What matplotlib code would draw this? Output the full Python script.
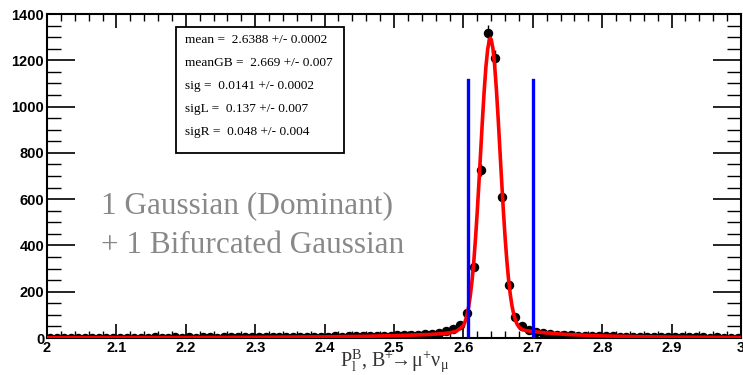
import numpy as np
import matplotlib
matplotlib.use("Agg")
import matplotlib.pyplot as plt
from matplotlib.ticker import MultipleLocator

# ---- data ----
bin_centers = np.round(np.arange(2.005, 3.0, 0.01), 3)
counts = [
    2, 1, 2, 1, 2, 2, 1, 2, 2, 1,      # 2.00-2.10
    2, 2, 1, 2, 2, 3, 2, 2, 3, 2,      # 2.10-2.20
    3, 2, 3, 3, 2, 3, 3, 4, 3, 3,      # 2.20-2.30
    4, 3, 4, 4, 5, 4, 5, 5, 6, 5,      # 2.30-2.40
    6, 7, 6, 7, 9, 8, 8, 9, 10, 9,     # 2.40-2.50
    11, 12, 13, 14, 16, 18, 23, 30, 40, 58,   # 2.50-2.60
    107, 305, 725, 1317, 1209, 611, 229, 92, 52, 35,  # 2.60-2.70
    25, 20, 16, 14, 12, 11, 10, 9, 9, 8,   # 2.70-2.80
    7, 7, 6, 6, 5, 5, 5, 4, 4, 4,      # 2.80-2.90
    4, 3, 3, 3, 3, 2, 3, 2, 2, 2,      # 2.90-3.00
]
fit_x = [2.00, 2.10, 2.20, 2.30, 2.40, 2.45, 2.50, 2.55, 2.57, 2.58, 2.59,
         2.595, 2.600, 2.6025, 2.605, 2.6075, 2.610, 2.6125, 2.615, 2.6175,
         2.620, 2.6225, 2.625, 2.6275, 2.630, 2.6325, 2.635, 2.6375, 2.6388,
         2.640, 2.6425, 2.645, 2.6475, 2.650, 2.6525, 2.655, 2.6575, 2.660,
         2.6625, 2.665, 2.6675, 2.670, 2.6725, 2.675, 2.6775, 2.680, 2.685,
         2.690, 2.700, 2.720, 2.750, 2.800, 2.850, 2.900, 2.950, 3.000]
fit_y = [1, 2, 2, 3, 5, 7, 10, 15, 19, 22, 30,
         40, 54, 71, 97, 134, 184, 249, 331, 432,
         548, 677, 811, 947, 1070, 1174, 1248, 1290, 1295,
         1290, 1252, 1179, 1076, 953, 819, 684, 555, 438,
         338, 255, 189, 139, 103, 77, 59, 48, 36,
         32, 28, 22, 15, 9, 6, 4, 3, 2]
cut_lines = [2.607, 2.700]
cut_height = 1115
fit_labels = ["mean =  2.6388 +/- 0.0002",
              "meanGB =  2.669 +/- 0.007",
              "sig =  0.0141 +/- 0.0002",
              "sigL =  0.137 +/- 0.007",
              "sigR =  0.048 +/- 0.004"]
model_lines = ["1 Gaussian (Dominant)", "+ 1 Bifurcated Gaussian"]

# ---- figure ----
W, H = 743, 375
fig = plt.figure(figsize=(W / 100, H / 100), dpi=100)
ax = fig.add_axes([47 / W, 1 - 338 / H, (741 - 47) / W, (338 - 14) / H])

counts_arr = np.array(counts, dtype=float)
ax.errorbar(bin_centers, counts_arr, yerr=np.sqrt(counts_arr), xerr=0.005,
            fmt='o', color='black', ms=5.8, elinewidth=1.0, capsize=0, zorder=3)
ax.plot(fit_x, fit_y, color='#ff0000', lw=2.6, zorder=4, solid_joinstyle='round')
for cx in cut_lines:
    ax.plot([cx, cx], [0, cut_height], color='#0000ff', lw=2.4, zorder=5)

ax.set_xlim(2.0, 3.0)
ax.set_ylim(0, 1400)
ax.xaxis.set_major_locator(MultipleLocator(0.1))
ax.xaxis.set_minor_locator(MultipleLocator(0.02))
ax.yaxis.set_major_locator(MultipleLocator(200))
ax.yaxis.set_minor_locator(MultipleLocator(50))
ax.tick_params(axis='x', which='major', direction='in', length=10, width=1.2,
               top=True, pad=2)
ax.tick_params(axis='x', which='minor', direction='in', length=5, width=1.0, top=True)
ax.tick_params(axis='y', which='major', direction='in', length=20, width=1.2,
               right=True, pad=2)
ax.tick_params(axis='y', which='minor', direction='in', length=10, width=1.0, right=True)
for sp in ax.spines.values():
    sp.set_linewidth(1.5)

def fmt_x(v):
    s = f"{v:.1f}"
    return s[:-2] if s.endswith(".0") else s

xt = np.round(np.arange(2.0, 3.01, 0.1), 1)
ax.set_xticks(xt)
ax.set_xticklabels([fmt_x(v) for v in xt], fontfamily='Liberation Sans',
                   fontweight='bold', fontsize=10.5)
yt = np.arange(0, 1401, 200)
ax.set_yticks(yt)
ax.set_yticklabels([str(v) for v in yt], fontfamily='Liberation Sans',
                   fontweight='bold', fontsize=10.5)

# stats box
box_x0, box_y0, box_x1, box_y1 = 176, 27, 344, 153
fig.patches.append(plt.Rectangle((box_x0 / W, 1 - box_y1 / H),
                                 (box_x1 - box_x0) / W, (box_y1 - box_y0) / H,
                                 transform=fig.transFigure, fill=True,
                                 facecolor='white', edgecolor='black', lw=1.3,
                                 zorder=10))
for i, t in enumerate(fit_labels):
    fig.text(185 / W, 1 - (40 + 23 * i) / H, t, fontfamily='Liberation Serif',
             fontsize=9.6, va='center', ha='left', zorder=11)

for i, t in enumerate(model_lines):
    fig.text(101 / W, 1 - (213 + 40 * i) / H, t, fontfamily='Liberation Serif',
             fontsize=22.5, color='#888888', va='baseline', ha='left')

fig.text(395 / W, 1 - 367 / H,
         r"$\mathregular{P_l^B}$, $\mathregular{B^{+}\!\!\rightarrow\!\mu^{+}\nu_{\mu}}$",
         fontfamily='Liberation Serif', fontsize=14.5, color='#333333',
         ha='center', va='baseline')

fig.savefig("out.png", dpi=100)
